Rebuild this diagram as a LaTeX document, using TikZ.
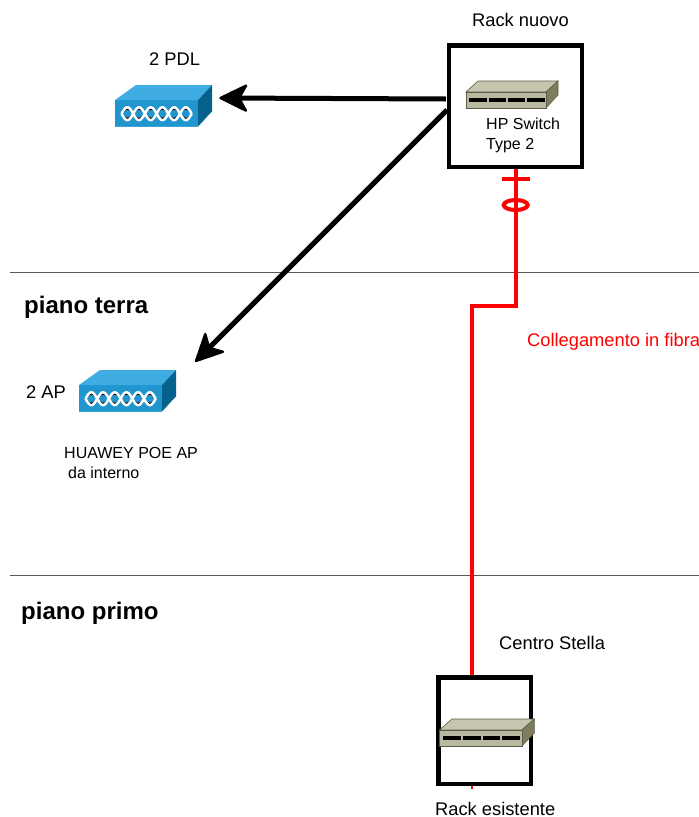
\documentclass[tikz,border=0pt]{standalone}
\usepackage{fontspec}
\setmainfont{Liberation Sans}
\definecolor{bluefront}{HTML}{2196CE}
\definecolor{bluetop}{HTML}{3FADE3}
\definecolor{blueside}{HTML}{06618D}
\definecolor{swfront}{HTML}{B9B9A0}
\definecolor{swtop}{HTML}{C6C6B0}
\definecolor{swside}{HTML}{7E7E5E}
\definecolor{swedge}{HTML}{5C5C48}
\tikzset{
  lbl/.style={inner sep=0pt,anchor=west,font=\fontsize{18.3}{20}\selectfont},
  smalllbl/.style={inner sep=0pt,anchor=west,font=\fontsize{16}{18}\selectfont},
  floorlbl/.style={inner sep=0pt,anchor=west,font=\fontsize{24}{26}\selectfont\bfseries},
  floorline/.style={draw=black!65,line width=0.7pt},
  rackbox/.style={draw=black,line width=4.5pt,inner sep=0pt,fill=white},
  bigarrow/.style={draw=black,line width=5pt,shorten >=12pt},
  fibre/.style={draw=red,line width=4.5pt},
  portbar/.style={fill=black,draw=none},
}
% arrow head: #1 = tip coordinate, #2 = rotation
\newcommand{\bighead}[2]{%
  \filldraw[black,line width=2.4pt,line join=round,shift={(#1)},rotate=#2]
    (1.5,0) -- (27,-12.5) -- (20,0) -- (27,12.5) -- cycle;}
% blue device: x,y = top-left corner of the front face
\newcommand{\bluedevice}[2]{%
  \begin{scope}[shift={(#1,#2)}]
    \fill[bluefront] (0,0) rectangle (83,27);
    \fill[bluetop] (0,0) -- (21,-15) -- (97,-15) -- (83,0) -- cycle;
    \fill[blueside] (83,0) -- (97,-15) -- (97,12) -- (83,27) -- cycle;
    \draw[white,line width=0.5pt] (0,27) -- (83,27) -- (97,12);
    \draw[black,line width=1.3pt,line join=round] plot[domain=0:6,samples=97] ({6.5+11.7*\x},{13.7+4.6*sin(180*\x)});
    \draw[black,line width=1.3pt,line join=round] plot[domain=0:6,samples=97] ({6.5+11.7*\x},{13.7-4.6*sin(180*\x)});
    \draw[white,line width=2.5pt,line join=round] plot[domain=0:6,samples=97] ({6.5+11.7*\x},{13.7+6.4*sin(180*\x)});
    \draw[white,line width=2.5pt,line join=round] plot[domain=0:6,samples=97] ({6.5+11.7*\x},{13.7-6.4*sin(180*\x)});
  \end{scope}}
% switch: x,y = top-left corner of the front face; #3 = x scale
\newcommand{\switchdevice}[3]{%
  \begin{scope}[shift={(#1,#2)},xscale=#3]
    \filldraw[swtop,draw=swedge,line width=0.6pt] (0,0) -- (12,-11) -- (92,-11) -- (80,0) -- cycle;
    \filldraw[swside,draw=swedge,line width=0.6pt] (80,0) -- (92,-11) -- (92,3) -- (80,16) -- cycle;
    \filldraw[swfront,draw=swedge,line width=0.6pt] (0,0) rectangle (80,16);
    \foreach \i in {0,1,2,3}{
      \fill[portbar] ({3.2+\i*19.3},5.6) rectangle ++(17.4,4.2);
    }
  \end{scope}}
\begin{document}
\begin{tikzpicture}[x=1pt,y=-1pt]
\useasboundingbox (0,0) rectangle (699,817);
% floors
\coordinate (f1l) at (10,272.5); \coordinate (f1r) at (699,272.5);
\coordinate (f2l) at (10,575.5); \coordinate (f2r) at (699,575.5);
\draw[floorline] (f1l) -- (f1r);
\draw[floorline] (f2l) -- (f2r);
\node[floorlbl] (pt) at (24,307) {piano terra};
\node[floorlbl] (pp) at (21,613) {piano primo};
% coordinates of the path
\coordinate (rackout) at (516,169);
\coordinate (bend1) at (516,306);
\coordinate (bend2) at (472,306);
\coordinate (rackin) at (472,676);
\coordinate (tail) at (472,789);
% red fibre (behind the racks)
\draw[fibre,line join=miter] (rackout) -- (bend1) -- (bend2) -- (rackin);
\draw[draw=red,line width=1.5pt] (tail) -- ++(0,-4);
% racks
\node[rackbox,minimum width=132.8pt,minimum height=121.2pt] (rackn) at (515.4,106.2) {};
\node[rackbox,minimum width=92.5pt,minimum height=106.5pt] (racke) at (484.5,730.5) {};
% fibre symbols
\coordinate (tickc) at (515.7,179);
\coordinate (ringc) at (515.7,205);
\draw[fibre,line width=4pt] ([xshift=-14pt]tickc) -- ([xshift=14pt]tickc);
\draw[fibre,line width=4pt] (ringc) ellipse (12 and 5);
% devices
\bluedevice{115}{100}
\bluedevice{79}{385}
\switchdevice{466}{92}{1}
\switchdevice{439.5}{730}{1.03}
% arrows
\coordinate (pdl) at (219,98);
\coordinate (ap) at (195,362);
\coordinate (rw1) at (446,99);
\coordinate (rw2) at (447,110);
\draw[bigarrow] (rw1) -- (pdl);
\draw[bigarrow] (rw2) -- (ap);
\bighead{pdl}{-0.25}
\bighead{ap}{45}
% labels
\node[lbl] (t1) at (472,20) {Rack nuovo};
\node[lbl] (t2) at (149,59) {2 PDL};
\node[smalllbl] (t3) at (486,123.5) {HP Switch};
\node[smalllbl] (t4) at (486,145.5) {Type 2};
\node[lbl,text=red] (t5) at (527,342) {Collegamento in fibra};
\node[lbl] (t6) at (26,392) {2 AP};
\node[smalllbl] (t7) at (64,453) {HUAWEY POE AP};
\node[smalllbl] (t8) at (68,473) {da interno};
\node[lbl] (t9) at (499,643) {Centro Stella};
\node[lbl] (t10) at (435,809) {Rack esistente};
\end{tikzpicture}
\end{document}
